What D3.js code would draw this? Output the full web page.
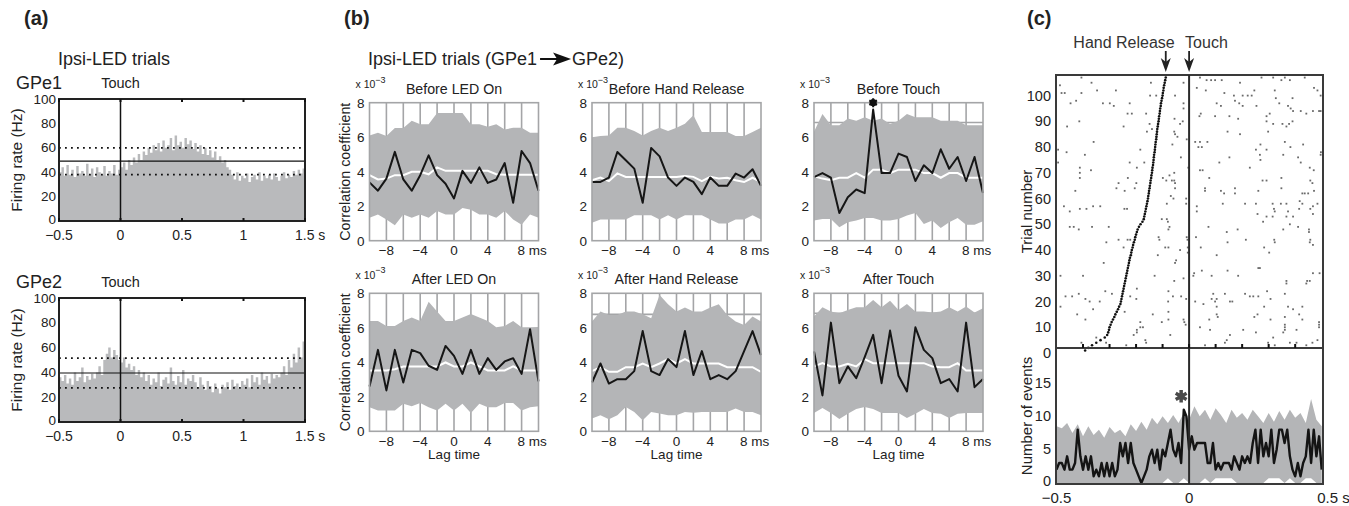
<!DOCTYPE html>
<html>
<head>
<meta charset="utf-8">
<script src="https://cdn.jsdelivr.net/npm/d3@7"></script>
<style>
  body { margin: 0; background: #fff; }
  svg text { font-family: "Liberation Sans", Arial, sans-serif; fill: #222; }
</style>
</head>
<body>
<div id="chart"></div>
<script>
// ---------- panel (a): firing rate histograms, 20 ms bins from -0.5 s ----------
var gpe1Rate = [40,44,37,46,38,42,36,45,39,41,37,47,38,43,36,44,40,38,45,37,41,39,46,38,42,
  44,48,42,50,46,52,48,55,50,57, 54,60,56,62,58,64,57,66,60,62,
  68,58,70,62,65,60,68,63,66,59, 64,57,62,55,60,54,58,52,57,50,
  53,48,50,44,42,
  38,34,40,33,37,35,39,32,36,38,34,40,33,37,35,38,34,39,36,33,37,40,35,38,36,41,38,42,39,43];
var gpe2Rate = [36,33,38,31,35,30,40,33,36,44,32,37,34,39,35,
  40,45,38,50,55,60,52,58,54,50, 48,52,44,47,42,45,38,42,36,40,
  33,38,30,35,32,40,29,34,36,31,44,33,30,37,32,42,30,35,33,38,
  32,28,36,30,26,33,29,24,31,27,23,30,28,32,26,34,29,31,27,33,
  30,35,28,38,32,36,30,40,34,37,31,39,35,38,36,
  40,45,38,50,44,55,48,60,52,65];
// [lower dotted, mean, upper dotted]
var gpe1Levels = [38, 49, 60];
var gpe2Levels = [27.5, 39.5, 51.5];
var rateTicks = [0, 20, 40, 60, 80, 100];
var timeTicksA = [-0.5, 0, 0.5, 1, 1.5];

// ---------- panel (b): cross-correlation, lag -10..10 ms ----------
var lagMs = [-10,-9,-8,-7,-6,-5,-4,-3,-2,-1,0,1,2,3,4,5,6,7,8,9,10];
var lagTicks = [-8, -4, 0, 4, 8];
var corrTicks = [0, 2, 4, 6, 8];

var beforeLedLine = [3.38,2.9,3.6,5.15,3.55,2.9,3.8,4.95,3.8,3.3,2.45,4.05,3.35,4.25,3.35,3.55,4.5,2.2,5.2,4.5,2.9];
var beforeLedMean = [3.8,3.55,3.6,3.8,3.8,4.0,4.0,3.85,4.25,4.05,4.05,4.05,4.05,4.05,4.05,3.85,3.82,3.82,3.82,3.82,3.82];
var beforeLedHi = [6.1,6.26,6.07,6.54,6.54,6.95,6.75,6.75,7.41,7.41,7.41,7.41,6.75,6.75,6.6,6.75,6.44,6.55,6.55,6.26,6.26];
var beforeLedLo = [1.33,1.52,1.23,0.9,1.52,1.33,1.52,1.33,1.72,1.52,1.52,1.9,1.8,1.52,1.52,1.33,1.72,1.23,0.93,1.52,1.33];

var beforeRelLine = [3.41,3.41,3.66,5.14,4.66,4.18,2.2,5.38,4.89,3.66,3.18,3.66,3.41,2.7,3.66,3.18,3.18,3.89,3.66,4.14,3.18];
var beforeRelMean = [3.5,3.66,3.45,3.9,3.7,3.7,3.7,3.7,3.7,3.7,3.7,3.75,3.7,3.45,3.7,3.6,3.65,3.5,3.4,3.65,3.4];
var beforeRelHi = [6.0,6.07,6.1,6.55,6.55,6.36,6.1,6.36,6.55,6.36,6.55,6.78,7.27,6.3,6.3,6.3,6.3,6.07,6.07,6.3,6.55];
var beforeRelLo = [1.04,1.23,1.23,1.23,1.23,1.48,1.48,1.48,1.23,1.48,1.23,1.48,1.48,1.48,1.23,1.0,1.0,1.23,1.23,1.48,1.23];

var beforeTouchLine = [3.69,3.92,3.65,1.61,2.52,2.97,2.76,7.6,3.92,3.92,5.05,4.85,3.46,4.37,3.92,5.3,4.17,4.85,3.46,4.85,2.76];
var beforeTouchMean = [3.73,3.6,3.5,3.65,3.65,3.92,3.65,4.12,4.12,3.92,4.12,4.12,4.12,3.92,3.92,3.65,3.92,3.92,3.65,3.65,3.65];
var beforeTouchHi = [6.31,7.34,6.7,6.7,7.09,6.95,7.15,6.95,7.09,6.76,6.95,7.34,7.15,7.15,7.15,6.95,6.95,6.95,6.7,6.7,6.7];
var beforeTouchLo = [1.17,1.26,1.26,0.78,1.07,1.17,1.32,1.32,1.17,1.17,1.26,1.46,1.6,0.97,1.17,0.74,1.07,1.32,0.93,0.93,1.13];

var afterLedLine = [2.6,4.72,2.37,4.72,2.83,4.72,4.53,3.8,3.56,4.95,4.37,3.33,4.72,3.33,4.24,3.56,4.05,4.24,3.33,5.92,2.89];
var afterLedMean = [3.53,3.53,3.53,3.6,3.76,3.76,3.76,3.76,3.76,3.99,3.76,3.76,3.99,3.76,3.53,3.53,3.53,3.76,3.53,3.53,3.53];
var afterLedHi = [6.4,6.4,6.1,6.1,6.4,6.59,6.4,7.51,6.94,6.4,6.4,6.59,6.8,6.59,6.4,6.03,6.1,6.4,6.03,6.03,6.05];
var afterLedLo = [1.39,1.21,1.21,1.21,1.6,1.45,1.64,1.39,1.21,1.6,1.21,1.6,1.06,1.6,1.39,1.39,1.64,1.64,1.21,1.39,1.45];

var afterRelLine = [2.83,3.93,2.77,3.02,3.02,3.49,5.81,3.49,3.26,4.19,3.72,5.81,3.26,4.65,3.02,3.26,3.02,3.49,4.65,5.81,4.42];
var afterRelMean = [3.49,3.72,3.45,3.45,3.72,3.72,3.93,3.72,3.93,4.19,3.93,4.19,3.93,3.93,3.93,3.93,3.72,3.72,3.72,3.72,3.45];
var afterRelHi = [6.36,6.94,6.74,6.74,6.94,6.94,6.78,6.55,7.9,7.36,6.94,7.17,6.94,6.94,7.17,7.36,6.74,6.36,6.16,6.65,6.36];
var afterRelLo = [0.74,0.93,0.7,0.93,1.41,1.12,0.64,1.12,1.03,0.93,0.93,1.12,1.08,1.12,1.12,1.12,1.12,1.32,1.12,1.12,0.93];

var afterTouchLine = [4.63,2.08,6.3,2.79,3.76,3.08,4.3,5.59,2.79,5.84,3.22,2.31,6.03,4.72,4.24,2.79,3.03,2.31,6.3,2.56,3.03];
var afterTouchMean = [3.76,3.95,3.76,3.76,3.91,3.76,4.18,3.95,3.95,3.95,3.95,3.95,3.95,3.95,3.76,3.72,3.72,3.95,3.53,3.53,3.53];
var afterTouchHi = [6.65,7.19,6.94,6.84,7.03,7.19,7.19,7.61,7.19,7.57,7.03,7.38,6.94,6.94,6.88,6.94,7.19,6.94,7.23,6.88,7.13];
var afterTouchLo = [1.06,1.35,1.06,0.71,1.02,1.29,1.41,1.29,1.06,1.06,1.06,0.77,1.02,1.29,1.06,1.02,0.77,1.02,1.06,1.06,1.06];

// gray reference level visible in some panels (null when absent)
var refLevels = [null, null, 6.85, null, 6.78, 6.84];
var panelTitles = ["Before LED On", "Before Hand Release", "Before Touch",
                   "After LED On", "After Hand Release", "After Touch"];
var sigLag = -3;   // starred lag in "Before Touch"

// ---------- panel (c): raster + event count ----------
// hand release time (ms) for trials 1..107, touch at 0
var releaseMs = [-392,-380,-366,-350,-334,-318,-309,-305,-302,-300,
  -296,-292,-287,-282,-278,-273,-268,-264,-259,-257,
  -255,-253,-251,-249,-247,-245,-243,-241,-239,-237,
  -235,-233,-231,-229,-227,-225,-223,-220,-218,-216,
  -213,-211,-208,-205,-203,-200,-197,-194,-189,-183,
  -176,-171,-169,-167,-165,-163,-161,-159,-157,-155,
  -154,-152,-151,-149,-148,-146,-145,-143,-142,-140,
  -139,-138,-136,-135,-134,-133,-132,-130,-129,-128,
  -127,-126,-124,-123,-122,-121,-120,-118,-117,-115,
  -114,-113,-111,-110,-109,-107,-106,-104,-102,-100,
  -99,-97,-96,-94,-92,-90,-88];
// [time ms, trial]
var rasterSpikes = [
  [-406,107],[-368,105],[-21,105],[41,107],[66,106],[83,106],[98,106],[123,106],[192,105],[273,107],[317,107],[361,107],[348,106],[380,106],[436,107],
  [-487,104],[-481,101],[-469,101],[-406,101],[-347,102],[-276,102],[-144,105],[-147,100],[-124,100],[-53,100],[29,103],[63,102],[133,101],[169,100],[202,100],[221,100],[236,100],[246,102],[323,102],[327,99],[390,99],[471,103],[484,102],[496,100],
  [-447,97],[-426,98],[-325,97],[-299,97],[-284,96],[-224,97],[-21,97],[-21,95],[104,97],[120,96],[173,98],[189,97],[202,96],[254,96],[340,97],[373,96],[383,95],
  [-232,93],[-216,93],[-162,93],[-55,91],[-460,88],[-414,90],[-247,88],[-149,89],[-119,88],[-34,89],[-24,90],[44,93],[39,92],[98,92],[152,92],[185,91],[292,92],[292,90],[304,93],[317,89],[352,89],[367,88],[377,89],[390,90],[392,94],[421,94],[442,93],[467,94],[490,94],[496,94],[298,86],
  [-159,86],[-140,87],[-56,86],[-53,85],[-44,84],[145,86],[192,85],[-124,84],[-360,82],[-9,83],[23,82],[41,82],[69,82],[35,80],[48,80],[-63,81],[269,81],[361,82],[382,80],[430,81],
  [-494,79],[-462,78],[-393,77],[-184,79],[-224,74],[-169,74],[252,79],[292,79],[267,77],[355,77],[-31,76],[114,74],[152,76],[269,75],[411,76],[421,74],[497,78],[496,77],[-494,74],
  [-412,72],[-412,70],[-412,68],[-370,71],[-197,72],[-99,68],[-74,69],[-56,70],[-56,67],[-3,72],[41,71],[51,71],[229,72],[455,72],[470,71],[-266,66],[-231,68],[-199,66],[-86,67],[-65,67],[-53,66],[76,68],[277,67],[292,67],[348,68],[457,67],[465,66],
  [-429,63],[-274,64],[-243,63],[-205,64],[-53,64],[-69,61],[-59,60],[-11,60],[60,64],[60,63],[120,63],[132,62],[173,64],[173,62],[261,63],[348,64],[427,62],[436,62],[449,62],[471,63],[127,58],[211,58],[252,58],[315,58],[346,58],[367,58],[417,59],[427,58],[467,57],[484,58],[-472,57],[-84,58],[-11,58],[-412,56],[-387,56],[-362,57],[-335,57],[-244,56],[-234,56],[29,57],
  [-450,55],[-450,49],[-435,49],[-416,48],[-366,49],[-303,49],[29,55],[320,56],[323,55],[-84,52],[-80,51],[-74,49],[-78,48],[258,54],[292,53],[315,53],[367,53],[392,53],[373,55],[415,56],[457,56],[467,54],[73,49],[183,48],[279,51],[380,50],[452,48],[452,47],[142,47],[355,48],[411,49],[-103,52],
  [-312,43],[-115,45],[-112,44],[-78,41],[-266,44],[-232,44],[-222,44],[-247,41],[-9,45],[-6,44],[26,45],[-5,41],[-5,39],[44,41],[104,38],[145,43],[214,44],[283,41],[321,44],[323,43],[302,39],[455,43],[467,42],[457,44],[-118,38],[-49,36],[-34,40],[-90,41],[-322,35],[-218,38],[-224,37],
  [-485,30],[-400,30],[-130,30],[-53,35],[16,30],[19,31],[48,32],[85,30],[145,32],[185,30],[261,33],[267,33],[367,28],[367,27],[445,28],[455,28],[467,31],[492,31],[-56,28],[-21,29],[-197,25],[-78,24],
  [-485,18],[-466,22],[-441,22],[-416,23],[-391,21],[-375,20],[-337,20],[-291,23],[-222,22],[-199,21],[-79,20],[-61,22],[-30,22],[-11,21],[23,20],[54,19],[85,21],[91,23],[104,21],[98,20],[104,18],[135,23],[154,20],[163,20],[211,23],[229,22],[242,22],[261,22],[294,24],[283,18],[307,21],[361,23],[373,18],[392,17],[427,18],[442,27],[-316,24],[-362,17],[-272,16],[-422,15],
  [-391,13],[-243,16],[-184,12],[-137,15],[-78,16],[-78,13],[-103,12],[-21,13],[-18,12],[-13,11],[76,13],[108,14],[104,15],[246,14],[258,15],[307,13],[361,14],[415,15],[427,13],[490,12],[490,11],[361,11],[361,10],[361,9],[405,9],[-184,10],[-197,9],[-197,8],[-174,10],[-209,7],[-350,6],[79,9],[204,9],[252,8],[154,7],[41,10],[490,10],[317,6],
  [-406,4],[-313,4],[-237,3],[-165,5],[-162,4],[-71,7],[60,3],[135,4],[298,4],[323,3],[355,8],[380,4],[405,4],[442,3],[465,4],[484,5],[142,5]
];
// event counts, 10 ms steps from -0.5 to 0.5 s
var eventCounts = [2,3,3,2,4,2,2,3,8,4, 2,4,2,4,1,2,1,3,1,3, 1,3,1,2,6,4,6,3,6,3,
  2,1,0,1,2,4,5,3,5,2, 5,4,6,8,5,4,6,3,11,10, 5,7,5,6,6,6,6,3,3,6,
  2,3,2,3,3,3,2,4,3,2, 4,3,4,3,6,8,3,8,4,6, 4,8,3,5,8,8,6,8,4,2,
  1,3,1,3,4,8,3,8,4,7,2];
// surrogate band, 20 ms steps from -0.5 to 0.5 s
var eventHi = [8.5,8.2,9.0,7.5,8.8,7.0,8.5,7.2,8.0,6.8,8.4,7.5,8.0,7.0,8.8,7.8,9.2,8.0,9.8,8.8,
  10.0,9.0,10.2,9.0,10.5,9.5,11.5,10.0,11.0,9.5,11.2,10.2,9.0,11.0,9.8,10.5,9.5,11.0,10.0,9.0,
  10.5,9.2,10.8,9.5,11.0,9.8,10.5,9.0,12.6,9.5,8.5];
var eventLo = [0,0,0,0,0,0,0,0,0,0,0,0,0,0,0,0,0,0,0,0,
  0,0.7,0,0,0.7,0,0,0,0.7,0,0.7,0.7,0.7,0.7,0,0,0,0,0,0,
  0.7,0.7,0.7,0,0.7,0,0,0.7,0.7,0,0];
var sigTime = -0.03, sigCount = 13;
var trialTicks = [0,10,20,30,40,50,60,70,80,90,100];
var countTicks = [0, 5, 10, 15];

// ---------------------------------------------------------------
var svg = d3.select("#chart").append("svg")
    .attr("width", 1349)
    .attr("height", 506);

var bandGray = "#b4b5b7";

function label(g, x, y, txt, size, anchor, weight) {
  return g.append("text")
      .attr("x", x).attr("y", y)
      .attr("font-size", size)
      .attr("text-anchor", anchor || "start")
      .attr("font-weight", weight || "normal")
      .text(txt);
}

// panel letters
label(svg, 24, 25, "(a)", 20, "start", "bold");
label(svg, 344, 25, "(b)", 20, "start", "bold");
label(svg, 1027, 25, "(c)", 20, "start", "bold");

// ================= (a) =================
label(svg, 58, 65, "Ipsi-LED trials", 18);

function drawRate(top, bottom, vals, levels, unit) {
  var x = d3.scaleLinear().domain([-0.5, 1.5]).range([59, 305]);
  var y = d3.scaleLinear().domain([0, 100]).range([bottom, top]);
  var g = svg.append("g");

  var pts = vals.map(function(v, i) { return [-0.5 + i * 0.02, v]; });
  pts.push([1.5, vals[vals.length - 1]]);
  g.append("path")
      .datum(pts)
      .attr("fill", "#b9babc")
      .attr("d", d3.area().x(function(d) { return x(d[0]); })
        .y0(y(0)).y1(function(d) { return y(d[1]); })
        .curve(d3.curveStepAfter));

  // dotted thresholds and mean
  [levels[0], levels[2]].forEach(function(v) {
    g.append("line").attr("x1", x(-0.5)).attr("x2", x(1.5))
      .attr("y1", y(v)).attr("y2", y(v))
      .attr("stroke", "#111").attr("stroke-width", 1.8)
      .attr("stroke-dasharray", "1.8,4.2");
  });
  g.append("line").attr("x1", x(-0.5)).attr("x2", x(1.5))
    .attr("y1", y(levels[1])).attr("y2", y(levels[1]))
    .attr("stroke", "#111").attr("stroke-width", 1.2);
  g.append("line").attr("x1", x(0)).attr("x2", x(0))
    .attr("y1", y(100)).attr("y2", y(0))
    .attr("stroke", "#111").attr("stroke-width", 1.5);

  g.append("rect").attr("x", x(-0.5)).attr("y", y(100))
    .attr("width", x(1.5) - x(-0.5)).attr("height", y(0) - y(100))
    .attr("fill", "none").attr("stroke", "#222").attr("stroke-width", 2);

  timeTicksA.forEach(function(t) {
    g.append("line").attr("x1", x(t)).attr("x2", x(t)).attr("y1", y(0)).attr("y2", y(0) - 3)
      .attr("stroke", "#111").attr("stroke-width", 2);
    g.append("line").attr("x1", x(t)).attr("x2", x(t)).attr("y1", y(100)).attr("y2", y(100) + 3)
      .attr("stroke", "#111").attr("stroke-width", 2);
    var t0 = t === 1.5 ? "1.5 s" : (t < 0 ? "\u2212" + Math.abs(t) : String(t));
    if (t === 1.5) label(g, x(t) - 10, bottom + 18.7, t0, 14);
    else label(g, x(t), bottom + 18.7, t0, 14, "middle");
  });
  rateTicks.forEach(function(v) {
    label(g, 56, y(v) + (v === 0 ? 3 : 4.5), String(v), 13.5, "end");
  });
  g.append("text")
      .attr("transform", "translate(22," + ((top + bottom) / 2) + ") rotate(-90)")
      .attr("font-size", 15.5).attr("text-anchor", "middle")
      .text("Firing rate (Hz)");
  label(g, 16, top - 10, unit, 18);
  label(g, x(0), top - 11, "Touch", 14.5, "middle");
}
drawRate(99, 221, gpe1Rate, gpe1Levels, "GPe1");
drawRate(298, 422, gpe2Rate, gpe2Levels, "GPe2");

// ================= (b) =================
var head = label(svg, 368, 65, "Ipsi-LED trials (GPe1", 18);
var hx = 368 + head.node().getComputedTextLength() + 3;
svg.append("line").attr("x1", hx).attr("x2", hx + 20).attr("y1", 59).attr("y2", 59)
  .attr("stroke", "#111").attr("stroke-width", 2);
svg.append("path")
  .attr("d", "M" + (hx + 13) + ",52.5 L" + (hx + 31) + ",59 L" + (hx + 13) + ",65.5 L" + (hx + 17) + ",59 Z")
  .attr("fill", "#111");
label(svg, hx + 32, 65, "GPe2)", 18);

var corrData = [
  [beforeLedLine, beforeLedMean, beforeLedHi, beforeLedLo],
  [beforeRelLine, beforeRelMean, beforeRelHi, beforeRelLo],
  [beforeTouchLine, beforeTouchMean, beforeTouchHi, beforeTouchLo],
  [afterLedLine, afterLedMean, afterLedHi, afterLedLo],
  [afterRelLine, afterRelMean, afterRelHi, afterRelLo],
  [afterTouchLine, afterTouchMean, afterTouchHi, afterTouchLo]
];
var colLeft = [369.5, 592, 814], boxW = 169;
var rowTop = [102.7, 293.3], boxH = 138;

corrData.forEach(function(s, k) {
  var row = Math.floor(k / 3), col = k % 3;
  var left = colLeft[col], top = rowTop[row];
  var x = d3.scaleLinear().domain([-10, 10]).range([left, left + boxW]);
  var y = d3.scaleLinear().domain([0, 8]).range([top + boxH, top]);
  var g = svg.append("g");
  var gridC = "#a4a5a7";

  d3.range(-8, 9, 2).forEach(function(l) {
    g.append("line").attr("x1", x(l)).attr("x2", x(l)).attr("y1", y(0)).attr("y2", y(8))
      .attr("stroke", gridC).attr("stroke-width", 1.6);
  });
  if (refLevels[k] !== null) {
    g.append("line").attr("x1", x(-10)).attr("x2", x(10))
      .attr("y1", y(refLevels[k])).attr("y2", y(refLevels[k]))
      .attr("stroke", gridC).attr("stroke-width", 1.6);
  }
  g.append("path")
      .datum(lagMs)
      .attr("fill", bandGray)
      .attr("d", d3.area()
        .x(function(d) { return x(d); })
        .y0(function(d, i) { return y(s[3][i]); })
        .y1(function(d, i) { return y(s[2][i]); }));
  var line = d3.line().x(function(d) { return x(d); });
  g.append("path").datum(lagMs)
      .attr("fill", "none").attr("stroke", "#fff").attr("stroke-width", 2)
      .attr("d", line.y(function(d, i) { return y(s[1][i]); }));
  g.append("path").datum(lagMs)
      .attr("fill", "none").attr("stroke", "#161616").attr("stroke-width", 2)
      .attr("stroke-linejoin", "round")
      .attr("d", line.y(function(d, i) { return y(s[0][i]); }));

  g.append("rect").attr("x", x(-10)).attr("y", y(8))
    .attr("width", boxW).attr("height", boxH)
    .attr("fill", "none").attr("stroke", gridC).attr("stroke-width", 1.6);

  if (k === 2) {
    var mk = g.append("g")
      .attr("transform", "translate(" + x(sigLag) + "," + y(8) + ")");
    mk.append("circle").attr("r", 3.6).attr("fill", "#111");
    mk.append("path")
      .attr("d", d3.symbol().type(d3.symbolAsterisk).size(55)())
      .attr("fill", "none").attr("stroke", "#111").attr("stroke-width", 2);
  }

  corrTicks.forEach(function(v) {
    label(g, left - 5, y(v) + 5, String(v), 13.5, "end");
  });
  lagTicks.forEach(function(l) {
    var txt = l < 0 ? "\u2212" + Math.abs(l) : String(l);
    if (l === 8) label(g, x(l) - 4, top + boxH + 14.5, "8 ms", 13.5);
    else label(g, x(l), top + boxH + 14.5, txt, 13.5, "middle");
  });
  var ex = g.append("text").attr("x", left - 14).attr("y", top - 14.5).attr("font-size", 10.5);
  ex.append("tspan").text("x 10");
  ex.append("tspan").attr("dy", -5.5).attr("font-size", 9).text("\u22123");
  label(g, left + boxW / 2, top - 9, panelTitles[k], 14.2, "middle");
  if (row === 1) label(g, left + boxW / 2, top + boxH + 28, "Lag time", 13.5, "middle");
  if (col === 0) {
    g.append("text")
      .attr("transform", "translate(350," + (top + boxH / 2) + ") rotate(-90)")
      .attr("font-size", 14.3).attr("text-anchor", "middle")
      .text("Correlation coefficient");
  }
});

// ================= (c) =================
var xc = d3.scaleLinear().domain([-0.5, 0.5]).range([1056.5, 1321.7]);
var yTrial = d3.scaleLinear().domain([0, 108]).range([353, 75]);
var yCount = d3.scaleLinear().domain([0, 20.25]).range([483, 348]);
var gc = svg.append("g");
var cLeft = 1056, cRight = 1323, cTop = 75, cMid = 348, cBot = 484;

// count band and line
gc.append("path")
    .datum(eventHi)
    .attr("fill", bandGray)
    .attr("d", d3.area()
      .x(function(d, i) { return xc(-0.5 + i * 0.02); })
      .y0(function(d, i) { return yCount(eventLo[i]); })
      .y1(function(d) { return yCount(d); }));
gc.append("path")
    .datum(eventCounts)
    .attr("fill", "none").attr("stroke", "#141414").attr("stroke-width", 2.4)
    .attr("stroke-linejoin", "round")
    .attr("d", d3.line()
      .x(function(d, i) { return xc(-0.5 + i * 0.01); })
      .y(function(d) { return yCount(d); }));
gc.append("path")
    .attr("transform", "translate(" + xc(sigTime) + "," + yCount(sigCount) + ")")
    .attr("d", d3.symbol().type(d3.symbolAsterisk).size(110)())
    .attr("fill", "none").attr("stroke", "#4a4a4a").attr("stroke-width", 3.5);

// raster
gc.selectAll(".spike")
    .data(rasterSpikes)
  .enter().append("rect")
    .attr("class", "spike")
    .attr("x", function(d) { return xc(d[0] / 1000) - 0.9; })
    .attr("y", function(d) { return yTrial(d[1]) - 0.9; })
    .attr("width", 1.8).attr("height", 1.8)
    .attr("fill", "#6a6a6a");
gc.selectAll(".release")
    .data(releaseMs)
  .enter().append("circle")
    .attr("class", "release")
    .attr("cx", function(d) { return xc(d / 1000); })
    .attr("cy", function(d, i) { return yTrial(i + 1); })
    .attr("r", 1.3)
    .attr("fill", "#111");

// frames
gc.append("rect").attr("x", cLeft).attr("y", cTop)
  .attr("width", cRight - cLeft).attr("height", cBot - cTop)
  .attr("fill", "none").attr("stroke", "#3a3a3a").attr("stroke-width", 2);
gc.append("line").attr("x1", cLeft).attr("x2", cRight).attr("y1", cMid).attr("y2", cMid)
  .attr("stroke", "#3a3a3a").attr("stroke-width", 2);
gc.append("line").attr("x1", xc(0)).attr("x2", xc(0)).attr("y1", cTop).attr("y2", cBot)
  .attr("stroke", "#2a2a2a").attr("stroke-width", 2);
d3.range(-4, 5).forEach(function(k) {
  gc.append("line").attr("x1", xc(k / 10)).attr("x2", xc(k / 10))
    .attr("y1", cMid).attr("y2", cMid - 4)
    .attr("stroke", "#111").attr("stroke-width", 2);
});

trialTicks.forEach(function(v) {
  label(gc, 1051, yTrial(v) + 5, String(v), 14.5, "end");
});
countTicks.forEach(function(v) {
  label(gc, 1051, yCount(v) + (v === 0 ? 2.5 : 4.5), String(v), 14.5, "end");
});
label(gc, xc(-0.5), 503, "\u22120.5", 15, "middle");
label(gc, xc(0), 503, "0", 15, "middle");
label(gc, xc(0.5) - 4.5, 503, "0.5 s", 15);
gc.append("text")
    .attr("transform", "translate(1032," + ((cTop + cMid) / 2) + ") rotate(-90)")
    .attr("font-size", 15).attr("text-anchor", "middle")
    .text("Trial number");
gc.append("text")
    .attr("transform", "translate(1032," + ((cMid + cBot) / 2) + ") rotate(-90)")
    .attr("font-size", 15).attr("text-anchor", "middle")
    .text("Number of events");

// event arrows
function arrow(xp) {
  gc.append("line").attr("x1", xp).attr("x2", xp).attr("y1", 51).attr("y2", 64)
    .attr("stroke", "#222").attr("stroke-width", 1.8);
  gc.append("path")
    .attr("d", "M" + (xp - 5) + ",58 L" + xp + ",72 L" + (xp + 5) + ",58 L" + xp + ",62 Z")
    .attr("fill", "#222");
}
var relTop = xc(releaseMs[releaseMs.length - 1] / 1000);
arrow(relTop);
arrow(xc(0));
label(gc, relTop + 9, 48, "Hand Release", 16, "end").style("fill", "#333");
label(gc, xc(0) - 4, 48, "Touch", 16).style("fill", "#333");
</script>
</body>
</html>
